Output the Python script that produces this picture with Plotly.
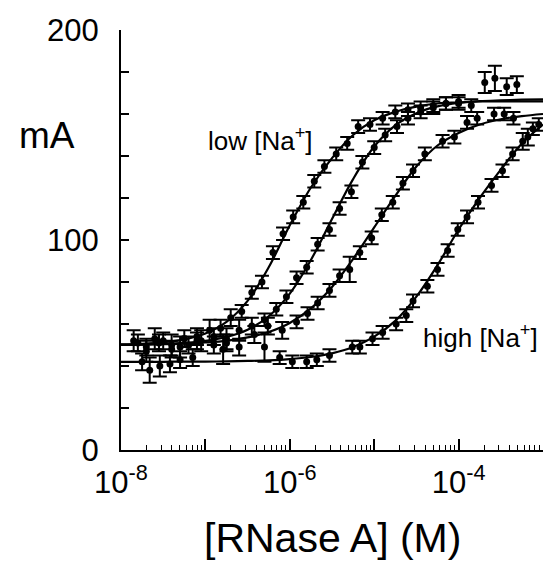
import numpy as np
import plotly.graph_objects as go

# ---- data (log10 of [RNase A] in M, mA values, error bars) ----
c1_logx = [-7.85, -7.7, -7.55, -7.4, -7.25, -7.1, -6.95, -6.82, -6.7, -6.57, -6.45, -6.33, -6.2, -6.08, -5.96,
           -5.84, -5.71, -5.59, -5.45, -5.32, -5.19, -5.05, -4.9, -4.75, -4.6, -4.45, -4.3, -4.15, -4.0, -3.85]
c1_y = [52, 49, 51, 50, 53, 52, 57, 58, 63, 66, 75, 80, 94, 103, 111,
        118, 128, 135, 141, 146, 154, 155, 158, 161, 162, 163, 164, 165, 165, 164]
c1_err = [5, 4, 4, 5, 4, 4, 5, 4, 4, 3, 3, 3, 3, 3, 3, 3, 3, 3, 3, 3, 3, 3, 3, 3, 3, 3, 3, 3, 3, 3]

c2_logx = [-7.8, -7.6, -7.4, -7.2, -7.05, -6.9, -6.75, -6.6, -6.45, -6.3, -6.16, -6.04, -5.92, -5.8, -5.67,
           -5.53, -5.41, -5.27, -5.14, -5.0, -4.87, -4.73, -4.6, -4.45, -4.3, -4.15, -4.0, -3.69, -3.57, -3.43, -3.31]
c2_y = [51, 53, 48, 50, 52, 54, 51, 57, 59, 62, 67, 73, 82, 87, 98,
        105, 115, 123, 137, 144, 150, 154, 158, 161, 163, 165, 166, 175, 177, 173, 174]
c2_err = [4, 5, 4, 4, 5, 4, 4, 5, 4, 3, 3, 3, 3, 3, 3, 3, 3, 3, 3, 3, 3, 3, 3, 3, 3, 3, 3, 5, 6, 4, 4]

c3_logx = [-7.7, -7.5, -7.3, -7.1, -6.9, -6.75, -6.6, -6.42, -6.26, -6.09, -5.92, -5.79, -5.67, -5.53, -5.41,
           -5.29, -5.17, -5.03, -4.91, -4.78, -4.66, -4.54, -4.40, -4.19, -4.05, -3.90, -3.78, -3.58, -3.46, -3.35]
c3_y = [47, 52, 49, 54, 50, 53, 49, 55, 59, 57, 61, 65, 70, 76, 83,
        86, 94, 101, 112, 118, 127, 133, 141, 147, 149, 156, 158, 160, 160, 158]
c3_err = [5, 4, 5, 4, 4, 5, 4, 4, 4, 4, 3, 3, 3, 3, 3, 6, 3, 3, 3, 3, 3, 3, 3, 3, 3, 3, 3, 3, 3, 3]

c4_logx = [-7.75, -7.66, -7.54, -7.42, -7.3, -7.15, -6.79, -6.3, -6.12, -5.97, -5.8, -5.68, -5.53, -5.26, -5.17,
           -5.02, -4.90, -4.74, -4.62, -4.54, -4.37, -4.25, -4.13, -4.01, -3.90, -3.77, -3.61, -3.48, -3.36, -3.24,
           -3.18, -3.12, -3.05]
c4_y = [42, 38, 40, 41, 43, 44, 48, 49, 44, 42, 42, 43, 45, 49, 49,
        53, 56, 60, 64, 71, 78, 86, 95, 105, 111, 118, 126, 133, 141, 147,
        149, 153, 155]
c4_err = [4, 6, 5, 4, 4, 4, 7, 7, 3, 3, 3, 3, 3, 3, 3, 3, 3, 3, 3, 3, 3, 3, 3, 3, 3, 3, 3, 3, 3, 4, 4, 3, 3]

# fitted curves
fit_logx = [-8, -7.75, -7.5, -7.25, -7, -6.75, -6.5, -6.25, -6, -5.75, -5.5,
            -5.25, -5, -4.75, -4.5, -4.25, -4, -3.75, -3.5, -3.25, -3]
fit_c1 = [50.3, 50.6, 51.3, 52.7, 55.5, 61, 71, 87, 107, 125, 139, 150, 157, 161, 163.5, 165, 165.5, 166, 166, 166, 166]
fit_c2 = [50.1, 50.2, 50.5, 51, 51.9, 53.8, 57.3, 63.7, 74.5, 90.5, 110, 129, 144.5, 154.6, 160.4, 163.6, 165.3, 166.1, 166.5, 166.8, 167]
fit_c3 = [50.1, 50.2, 50.4, 50.7, 51.2, 52, 53.6, 56.2, 60.5, 67.4, 77.6, 91, 106, 121, 135, 145, 151, 155, 157.5, 159, 160]
fit_c4 = [42, 42, 42, 42.1, 42.1, 42.2, 42.4, 42.7, 43.3, 44.3, 46, 49, 54, 61.5, 73, 88, 105, 120, 133.5, 146, 155]

# axis ticks
x_label_exp = [-8, -6, -4]
x_label_text = ["10<sup>-8</sup>", "10<sup>-6</sup>", "10<sup>-4</sup>"]
x_unlabeled_exp = [-7, -5, -3]
y_label_vals = [0, 100, 200]
y_minor_vals = [20, 40, 60, 80, 120, 140, 160, 180]

FONT = "Liberation Sans, Arial, Helvetica, sans-serif"

fig = go.Figure()

for fx, fy in [(fit_logx, fit_c1), (fit_logx, fit_c2), (fit_logx, fit_c3), (fit_logx, fit_c4)]:
    fig.add_trace(go.Scatter(
        x=[10 ** v for v in fx], y=fy, mode="lines",
        line=dict(color="black", width=2.2, shape="spline", smoothing=1.0),
        hoverinfo="skip", showlegend=False))

for lx, yy, ee in [(c1_logx, c1_y, c1_err), (c2_logx, c2_y, c2_err),
                   (c3_logx, c3_y, c3_err), (c4_logx, c4_y, c4_err)]:
    fig.add_trace(go.Scatter(
        x=[10 ** v for v in lx], y=yy, mode="markers",
        marker=dict(color="black", size=7, symbol="circle"),
        error_y=dict(type="data", array=ee, visible=True, color="black", thickness=2, width=7),
        showlegend=False))

# invisible helper trace so the second x axis (unlabeled decade ticks) is drawn
fig.add_trace(go.Scatter(x=[10 ** x_unlabeled_exp[0]], y=[None], xaxis="x2", yaxis="y",
                         mode="markers", showlegend=False, hoverinfo="skip"))

minor_vals = []
for e in range(-8, -3):
    for m in range(2, 10):
        minor_vals.append(m * 10 ** e)

fig.update_layout(
    width=545, height=563,
    margin=dict(l=121, r=2, t=30, b=113),
    paper_bgcolor="white", plot_bgcolor="white",
    font=dict(family=FONT, color="black"),
    showlegend=False,
    xaxis=dict(
        type="log", range=[-8, -3],
        tickmode="array", tickvals=[10 ** e for e in x_label_exp], ticktext=x_label_text,
        ticks="inside", ticklen=11, tickwidth=1.6, tickcolor="black",
        minor=dict(tickmode="array", tickvals=minor_vals, ticks="inside", ticklen=5,
                   tickwidth=1.3, tickcolor="black", showgrid=False),
        showline=True, linecolor="black", linewidth=2.2,
        showgrid=False, zeroline=False,
        tickfont=dict(size=31, family=FONT, color="black"),
        ticklabelstandoff=4,
    ),
    xaxis2=dict(
        type="log", range=[-8, -3], overlaying="x", anchor="y", side="bottom",
        tickmode="array", tickvals=[10 ** e for e in x_unlabeled_exp],
        ticks="inside", ticklen=11, tickwidth=1.6, tickcolor="black",
        showticklabels=False, showline=False, showgrid=False, zeroline=False,
    ),
    yaxis=dict(
        range=[0, 200],
        tickmode="array", tickvals=y_label_vals,
        ticks="inside", ticklen=8, tickwidth=1.6, tickcolor="black",
        minor=dict(tickmode="array", tickvals=y_minor_vals, ticks="inside", ticklen=8,
                   tickwidth=1.6, tickcolor="black", showgrid=False),
        showline=True, linecolor="black", linewidth=2.2,
        showgrid=False, zeroline=False,
        tickfont=dict(size=31, family=FONT, color="black"),
        ticklabelstandoff=14,
    ),
    annotations=[
        dict(text="mA", xref="paper", yref="y", x=-0.175, y=150, showarrow=False,
             xanchor="center", yanchor="middle", font=dict(size=37, family=FONT, color="black")),
        dict(text="[RNase A] (M)", xref="paper", yref="paper", x=0.5, y=-0.2095, showarrow=False,
             xanchor="center", yanchor="middle", font=dict(size=41, family=FONT, color="black")),
        dict(text="low [Na<sup>+</sup>]", xref="x", yref="y", x=-6.35, y=148, showarrow=False,
             xanchor="center", yanchor="middle", font=dict(size=26, family=FONT, color="black")),
        dict(text="high [Na<sup>+</sup>]", xref="x", yref="y", x=-3.735, y=54, showarrow=False,
             xanchor="center", yanchor="middle", font=dict(size=26, family=FONT, color="black")),
    ],
)

fig.write_html("out.html",
               config={"displayModeBar": False},
               post_script="document.body.style.margin='0';document.body.style.padding='0';"
                           "document.body.style.overflow='hidden';")
